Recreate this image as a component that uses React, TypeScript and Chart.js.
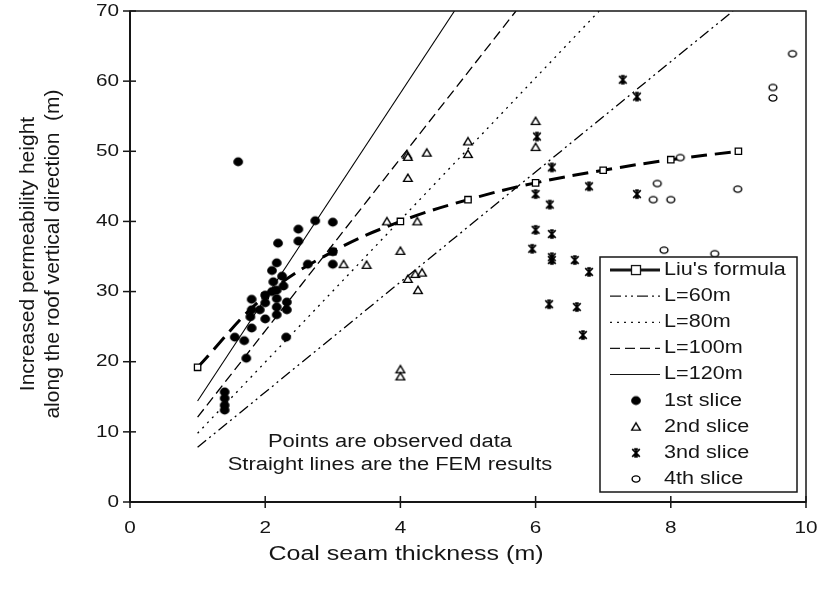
import React, { useEffect, useRef } from "react";
import { Chart, registerables } from "chart.js";

Chart.register(...registerables);

// ---------------- data ----------------
const X_TICKS = [0, 2, 4, 6, 8, 10];
const Y_TICKS = [0, 10, 20, 30, 40, 50, 60, 70];

const LIU_X = [1, 2, 3, 4, 5, 6, 7, 8, 9];
const LIU_Y = [19.2, 29.4, 35.7, 40.0, 43.1, 45.5, 47.3, 48.8, 50.0];

const L60_X = [1, 8.92];
const L60_Y = [7.8, 70];
const L80_X = [1, 6.94];
const L80_Y = [9.8, 70];
const L100_X = [1, 5.71];
const L100_Y = [12.1, 70];
const L120_X = [1, 4.8];
const L120_Y = [14.4, 70];

const S1_X = [1.4, 1.4, 1.4, 1.4, 1.6, 1.55, 1.69, 1.72, 1.8, 1.78, 1.8, 1.8, 1.92, 2.0, 2.0, 2.0, 2.1, 2.17, 2.17, 2.17, 2.17, 2.12, 2.1, 2.17, 2.19, 2.32, 2.32, 2.31, 2.25, 2.27, 2.49, 2.49, 2.63, 2.74, 3.0, 3.0, 3.0];
const S1_Y = [13.1, 13.8, 14.8, 15.7, 48.5, 23.5, 23.0, 20.5, 24.8, 26.4, 27.4, 28.9, 27.4, 26.1, 28.4, 29.5, 30.0, 26.7, 27.8, 29.0, 30.2, 31.4, 33.0, 34.1, 36.9, 27.4, 28.5, 23.5, 32.2, 30.8, 37.2, 38.9, 33.9, 40.1, 33.9, 35.7, 39.9];

const S2_X = [3.16, 3.5, 3.8, 4.0, 4.0, 4.0, 4.1, 4.11, 4.11, 4.11, 4.22, 4.32, 4.26, 4.25, 4.39, 5.0, 5.0, 6.0, 6.0];
const S2_Y = [33.9, 33.8, 40.0, 35.8, 18.9, 17.9, 49.5, 49.2, 46.2, 31.8, 32.5, 32.7, 30.2, 40.0, 49.8, 51.4, 49.6, 54.3, 50.6];

const S3_X = [7.29, 7.5, 6.02, 6.24, 6.0, 6.79, 7.5, 6.21, 6.0, 6.24, 5.95, 6.24, 6.24, 6.58, 6.79, 6.2, 6.61, 6.7];
const S3_Y = [60.2, 57.8, 52.1, 47.7, 43.9, 45.0, 43.9, 42.4, 38.8, 38.2, 36.1, 34.9, 34.5, 34.5, 32.8, 28.2, 27.8, 23.8];

const S4_X = [7.8, 7.74, 8.0, 7.9, 8.65, 8.99, 8.14, 9.51, 9.51, 9.8];
const S4_Y = [45.4, 43.1, 43.1, 35.9, 35.4, 44.6, 49.1, 59.1, 57.6, 63.9];

const LEGEND_LABELS = ["Liu's formula", "L=60m", "L=80m", "L=100m", "L=120m", "1st slice", "2nd slice", "3nd slice", "4th slice"];
const NOTE_LINES = ["Points are observed data", "Straight lines are the FEM results"];
const X_TITLE = "Coal seam thickness (m)";
const Y_TITLE = ["Increased permeability height", "along the roof vertical direction  (m)"];

// ---------------- helpers ----------------
const FONT = '"Liberation Sans", Arial, sans-serif';
const INK = "#161616";

const zip = (xs: number[], ys: number[]) => xs.map((x, i) => ({ x, y: ys[i] }));

function makeMarker(kind: string): HTMLCanvasElement {
  const c = document.createElement("canvas");
  const w = 12, h = 12;
  c.width = w;
  c.height = h;
  const g = c.getContext("2d")!;
  g.strokeStyle = "#000";
  g.fillStyle = "#000";
  const cx = w / 2, cy = h / 2;
  if (kind === "dot") {
    g.beginPath();
    g.ellipse(cx, cy, 4.9, 4.4, 0, 0, Math.PI * 2);
    g.fill();
  } else if (kind === "tri") {
    g.lineWidth = 1.4;
    g.beginPath();
    g.moveTo(cx, cy - 3.8);
    g.lineTo(cx + 4.3, cy + 3.4);
    g.lineTo(cx - 4.3, cy + 3.4);
    g.closePath();
    g.fillStyle = "#fff";
    g.fill();
    g.stroke();
  } else if (kind === "star") {
    g.lineWidth = 1.7;
    g.beginPath();
    g.moveTo(cx - 3.8, cy - 3.8);
    g.lineTo(cx + 3.8, cy + 3.8);
    g.moveTo(cx + 3.8, cy - 3.8);
    g.lineTo(cx - 3.8, cy + 3.8);
    g.moveTo(cx, cy - 4.2);
    g.lineTo(cx, cy + 4.2);
    g.moveTo(cx - 1.8, cy - 3.8);
    g.lineTo(cx + 1.8, cy - 3.8);
    g.moveTo(cx - 1.8, cy + 3.8);
    g.lineTo(cx + 1.8, cy + 3.8);
    g.stroke();
  } else if (kind === "ring") {
    g.lineWidth = 1.4;
    g.beginPath();
    g.ellipse(cx, cy, 3.9, 3.1, 0, 0, Math.PI * 2);
    g.fillStyle = "#fff";
    g.fill();
    g.stroke();
  }
  return c;
}

function drawText(
  ctx: CanvasRenderingContext2D,
  s: string,
  x: number,
  y: number,
  size: number,
  align: CanvasTextAlign,
  sx: number,
  rot = false
) {
  ctx.save();
  ctx.translate(x, y);
  if (rot) {
    ctx.rotate(-Math.PI / 2);
    ctx.scale(1, sx);
  } else {
    ctx.scale(sx, 1);
  }
  ctx.font = `${size}px ${FONT}`;
  ctx.textAlign = align;
  ctx.textBaseline = "middle";
  ctx.fillStyle = INK;
  ctx.fillText(s, 0, 0);
  ctx.restore();
}

type LineStyle = { width: number; dash: number[] };
const LINE_STYLES: LineStyle[] = [
  { width: 3, dash: [16, 8] },
  { width: 1.3, dash: [11, 4, 2, 4, 2, 4] },
  { width: 1.3, dash: [2, 5] },
  { width: 1.3, dash: [10, 5] },
  { width: 1.1, dash: [] },
];

export default function App() {
  const ref = useRef<HTMLCanvasElement | null>(null);

  useEffect(() => {
    document.body.style.margin = "0";
    document.body.style.overflow = "hidden";
    const canvas = ref.current!;
    const mDot = makeMarker("dot");
    const mTri = makeMarker("tri");
    const mStar = makeMarker("star");
    const mRing = makeMarker("ring");
    const markers = [mDot, mTri, mStar, mRing];

    const decor = {
      id: "decor",
      afterDraw(chart: any) {
        const { ctx, chartArea: a, scales } = chart;
        const xs = scales.x, ys = scales.y;
        const seg = (x1: number, y1: number, x2: number, y2: number) => {
          ctx.beginPath();
          ctx.moveTo(x1, y1);
          ctx.lineTo(x2, y2);
          ctx.stroke();
        };
        ctx.save();
        ctx.strokeStyle = INK;
        ctx.setLineDash([]);
        // frame
        ctx.lineWidth = 1.5;
        ctx.strokeRect(a.left, a.top, a.right - a.left, a.bottom - a.top);
        // axes
        ctx.lineWidth = 2;
        seg(a.left, a.top, a.left, a.bottom + 1);
        seg(a.left - 1, a.bottom, a.right, a.bottom);
        // ticks + labels
        ctx.lineWidth = 1.5;
        Y_TICKS.forEach((v) => {
          const y = ys.getPixelForValue(v);
          seg(a.left - 7, y, a.left + 6, y);
          drawText(ctx, String(v), a.left - 11, y, 17, "right", 1.22);
        });
        X_TICKS.forEach((v) => {
          const x = xs.getPixelForValue(v);
          seg(x, a.bottom - 6, x, a.bottom + 6);
          drawText(ctx, String(v), x, 528, 17, "center", 1.22);
        });
        // axis titles
        drawText(ctx, X_TITLE, 406, 554, 20, "center", 1.25);
        drawText(ctx, Y_TITLE[0], 28, 254, 21, "center", 1.0, true);
        drawText(ctx, Y_TITLE[1], 53, 254, 21, "center", 1.0, true);
        // note
        drawText(ctx, NOTE_LINES[0], 390, 442, 18, "center", 1.22);
        drawText(ctx, NOTE_LINES[1], 390, 465, 18, "center", 1.22);

        // legend
        const bx = 600, by = 257, bw = 197, bh = 235;
        ctx.fillStyle = "#fff";
        ctx.fillRect(bx, by, bw, bh);
        ctx.lineWidth = 1.5;
        ctx.strokeRect(bx, by, bw, bh);
        const rowH = bh / LEGEND_LABELS.length;
        LEGEND_LABELS.forEach((lab, i) => {
          const y = by + rowH * (i + 0.5);
          if (i < 5) {
            const st = LINE_STYLES[i];
            ctx.lineWidth = st.width;
            ctx.setLineDash(i === 0 ? [] : st.dash);
            seg(610, y, 660, y);
            ctx.setLineDash([]);
            if (i === 0) {
              ctx.fillStyle = "#fff";
              ctx.lineWidth = 1.3;
              ctx.fillRect(631.5, y - 4.5, 9, 9);
              ctx.strokeRect(631.5, y - 4.5, 9, 9);
            }
          } else {
            const m = markers[i - 5];
            ctx.drawImage(m, 636 - m.width / 2, y - m.height / 2);
          }
          drawText(ctx, lab, 664, y, 18, "left", 1.2);
        });
        ctx.restore();
      },
    };

    const lineDs = (label: string, xs: number[], ys: number[], st: LineStyle) => ({
      label,
      data: zip(xs, ys),
      showLine: true,
      borderColor: "#000",
      borderWidth: st.width,
      borderDash: st.dash,
      pointRadius: 0,
      order: 2,
    });

    const scatterDs = (label: string, xs: number[], ys: number[], m: HTMLCanvasElement) => ({
      label,
      data: zip(xs, ys),
      showLine: false,
      pointStyle: m,
      pointRadius: 5,
      order: 0,
    });

    const chart = new Chart(canvas, {
      type: "scatter",
      data: {
        datasets: [
          {
            label: LEGEND_LABELS[0],
            data: zip(LIU_X, LIU_Y),
            showLine: true,
            tension: 0.4,
            borderColor: "#000",
            borderWidth: LINE_STYLES[0].width,
            borderDash: LINE_STYLES[0].dash,
            pointStyle: "rect",
            pointRadius: 4.5,
            pointBorderWidth: 1.3,
            pointBorderColor: "#000",
            pointBackgroundColor: "#fff",
            order: 1,
          } as any,
          lineDs(LEGEND_LABELS[1], L60_X, L60_Y, LINE_STYLES[1]),
          lineDs(LEGEND_LABELS[2], L80_X, L80_Y, LINE_STYLES[2]),
          lineDs(LEGEND_LABELS[3], L100_X, L100_Y, LINE_STYLES[3]),
          lineDs(LEGEND_LABELS[4], L120_X, L120_Y, LINE_STYLES[4]),
          scatterDs(LEGEND_LABELS[5], S1_X, S1_Y, mDot),
          scatterDs(LEGEND_LABELS[6], S2_X, S2_Y, mTri),
          scatterDs(LEGEND_LABELS[7], S3_X, S3_Y, mStar),
          scatterDs(LEGEND_LABELS[8], S4_X, S4_Y, mRing),
        ] as any,
      },
      options: {
        animation: false,
        responsive: false,
        devicePixelRatio: 1,
        events: [],
        layout: { padding: { left: 0, top: 11, right: 16, bottom: 0 } },
        plugins: { legend: { display: false }, tooltip: { enabled: false } },
        scales: {
          x: {
            type: "linear",
            min: 0,
            max: 10,
            grid: { display: false, drawTicks: false },
            border: { display: false },
            ticks: { display: false },
            afterBuildTicks: (s: any) => {
              s.ticks = X_TICKS.map((v) => ({ value: v }));
            },
            afterFit: (s: any) => {
              s.height = 87;
            },
          },
          y: {
            type: "linear",
            min: 0,
            max: 70,
            grid: { display: false, drawTicks: false },
            border: { display: false },
            ticks: { display: false },
            afterBuildTicks: (s: any) => {
              s.ticks = Y_TICKS.map((v) => ({ value: v }));
            },
            afterFit: (s: any) => {
              s.width = 130;
            },
          },
        },
      } as any,
      plugins: [decor],
    });

    return () => chart.destroy();
  }, []);

  return (
    <div style={{ width: 822, height: 589, background: "#fff" }}>
      <canvas ref={ref} width={822} height={589} style={{ display: "block" }} />
    </div>
  );
}
